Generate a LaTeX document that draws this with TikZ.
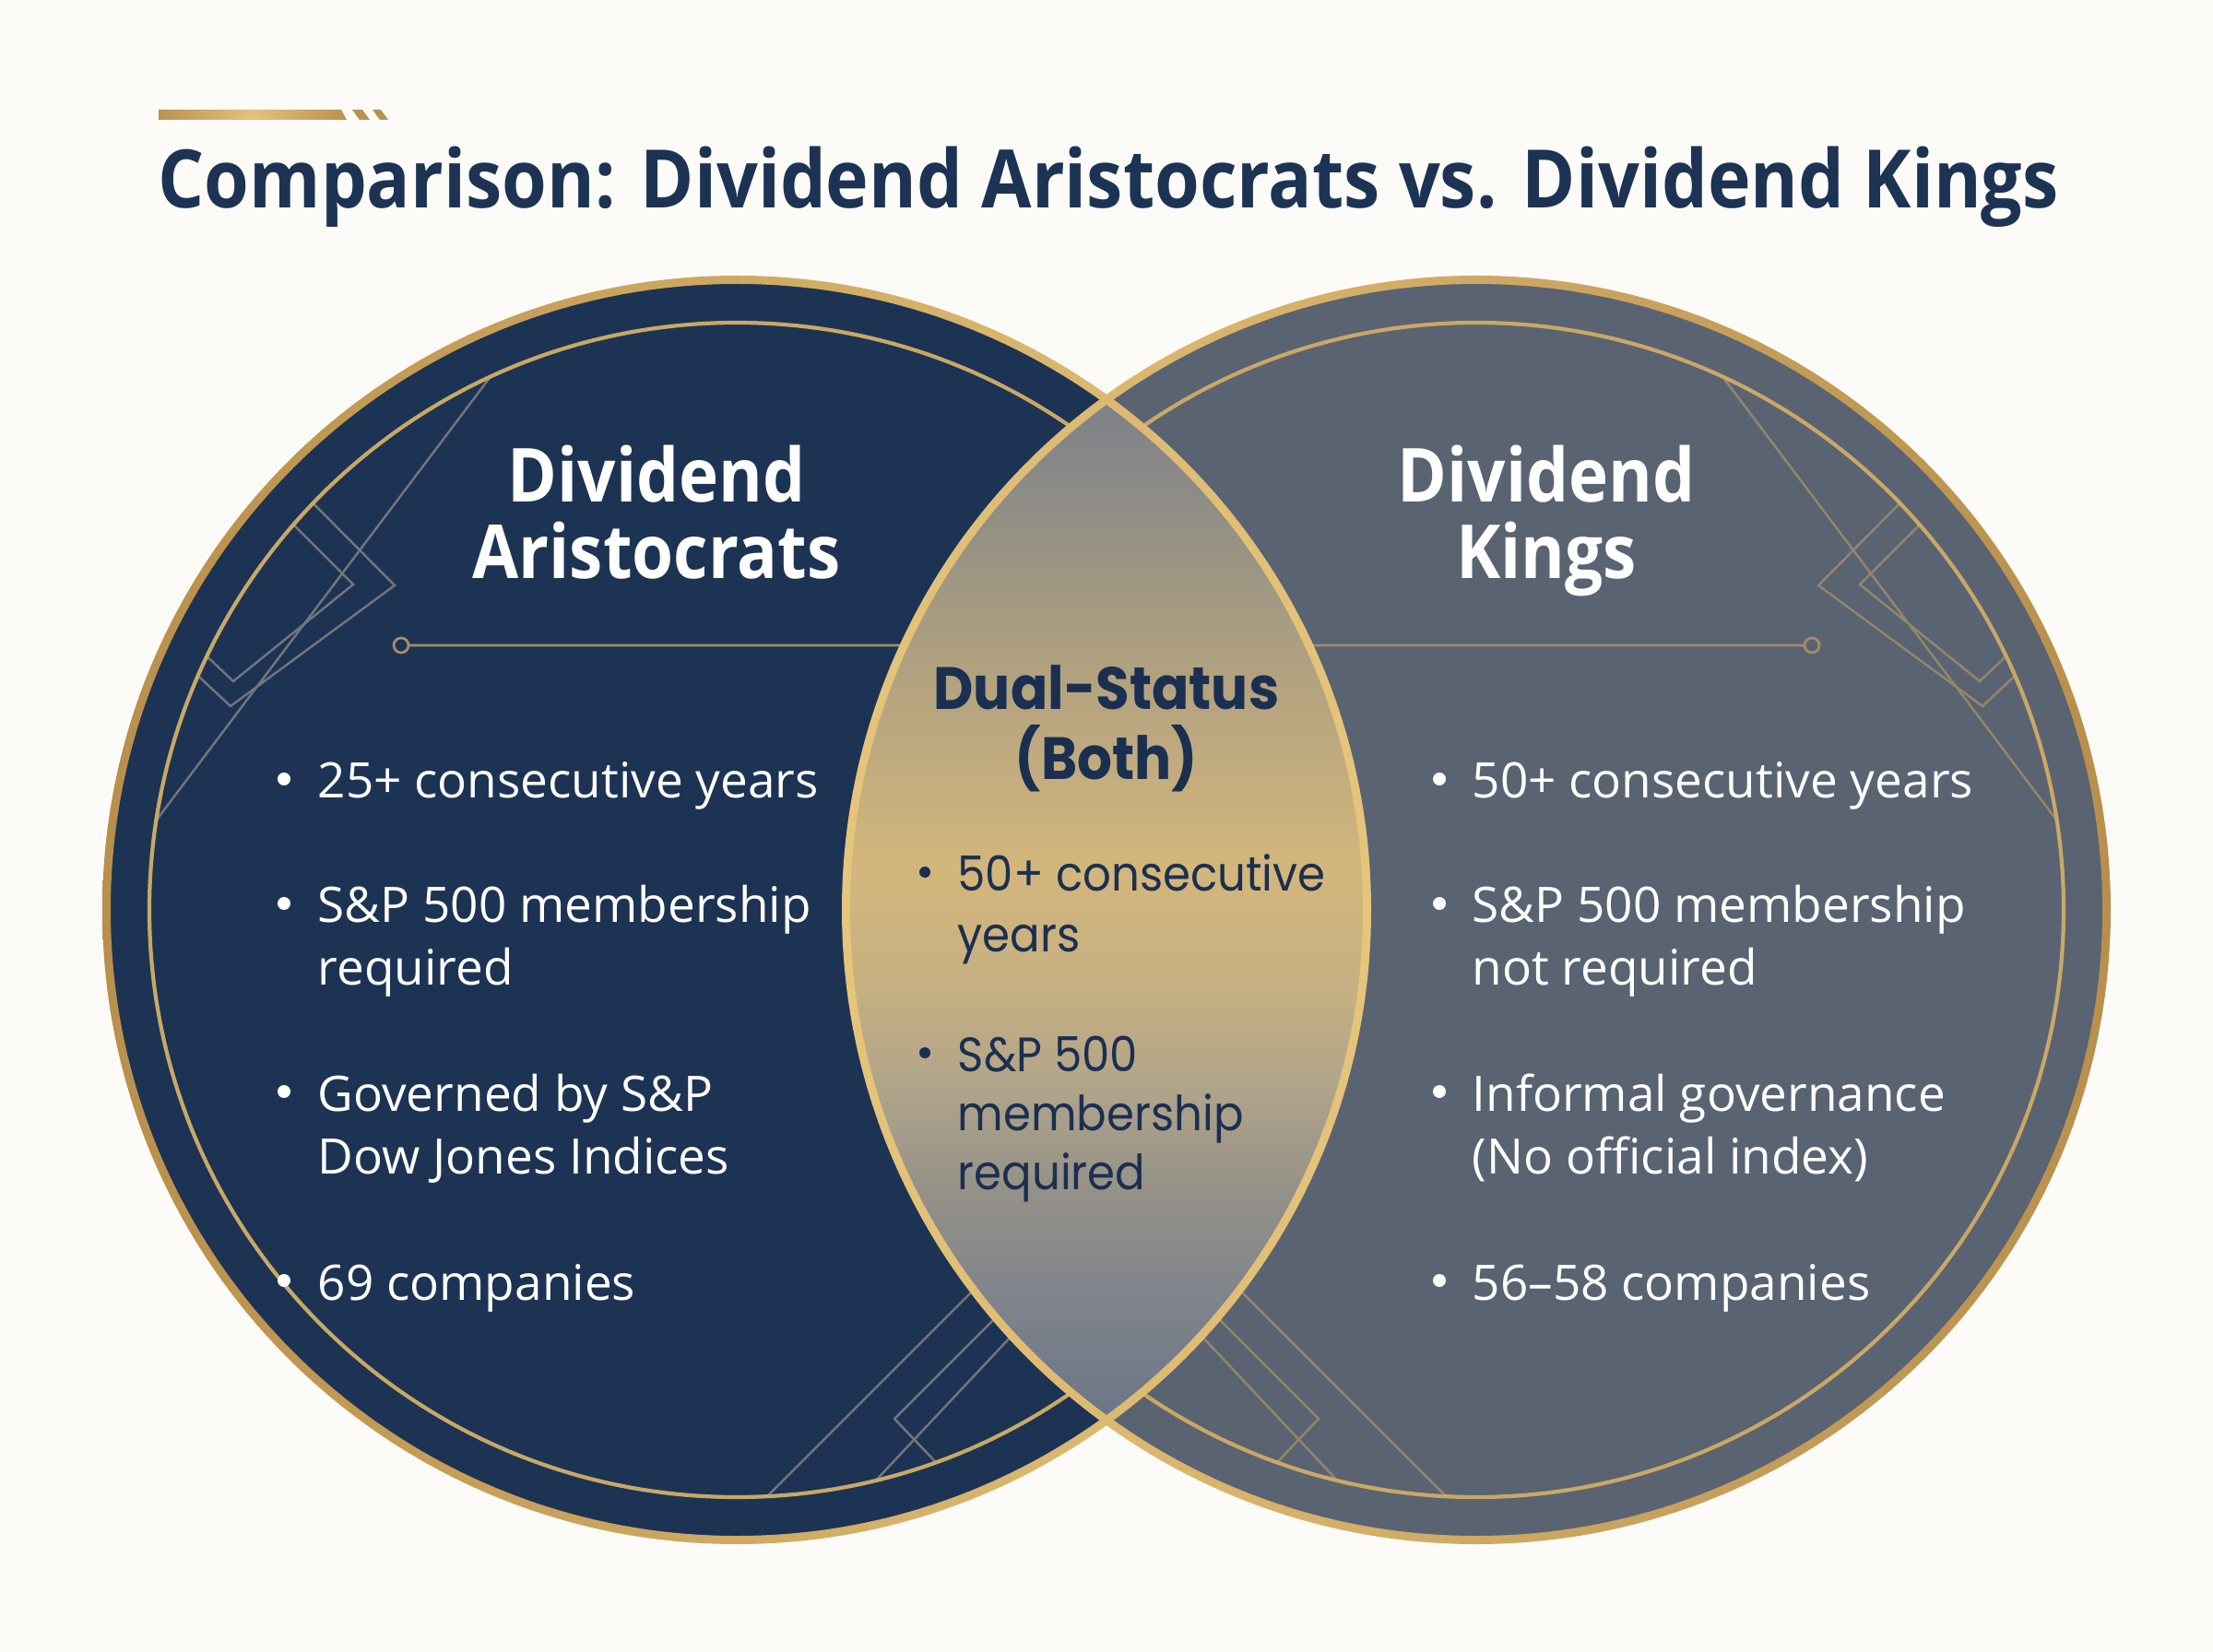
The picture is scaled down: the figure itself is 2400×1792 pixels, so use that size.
\documentclass[tikz,border=0pt]{standalone}
\usepackage{fontspec}
\setmainfont{Open Sans}
\newfontfamily\headfont[FakeStretch=0.9]{Open Sans}
\newfontfamily\lensfont[FakeStretch=0.92]{Poppins}
\definecolor{paper}{HTML}{FCFBF8}
\definecolor{navy}{HTML}{1C3354}
\definecolor{inknavy}{HTML}{1B2F50}
\definecolor{slate}{HTML}{596372}
\definecolor{golddark}{HTML}{B88F4C}
\definecolor{goldlight}{HTML}{E5C47B}
\definecolor{goldline}{HTML}{C9A866}
\definecolor{divgold}{HTML}{A58D64}
\definecolor{decoonnavy}{HTML}{737679}
\definecolor{decoonslate}{HTML}{94866B}
\definecolor{barend}{HTML}{B8934F}
\definecolor{barmid}{HTML}{E2C27A}
\definecolor{ls0}{HTML}{6B7587}
\definecolor{ls1}{HTML}{7F838B}
\definecolor{ls2}{HTML}{939088}
\definecolor{ls3}{HTML}{AEA38A}
\definecolor{ls4}{HTML}{C6AF82}
\definecolor{ls5}{HTML}{D3B67B}
\definecolor{ls6}{HTML}{BEA97F}
\definecolor{ls7}{HTML}{A89C80}
\definecolor{ls8}{HTML}{8E8C86}
\definecolor{ls9}{HTML}{7D8089}
\pgfdeclareverticalshading{lensfill}{100bp}{color(0bp)=(ls0); color(25bp)=(ls0); color(31bp)=(ls1); color(36bp)=(ls2); color(41bp)=(ls3); color(46bp)=(ls4); color(52bp)=(ls5); color(58bp)=(ls6); color(64bp)=(ls7); color(70bp)=(ls8); color(75bp)=(ls9); color(100bp)=(ls9)}
\begin{document}
\begin{tikzpicture}[x=0.01cm,y=-0.01cm,
  deco/.style={line width=0.7pt},
  ring/.style={draw=goldline,line width=1.2pt},
  divider/.style={draw=divgold,line width=0.8pt},
  head/.style={anchor=base,inner sep=0,text=white,font=\headfont\bfseries\fontsize{23}{27}\selectfont},
  itm/.style={anchor=base west,inner sep=0,text=white,font=\fontsize{15.1}{18}\selectfont},
  lenshead/.style={anchor=base,inner sep=0,text=inknavy,font=\lensfont\bfseries\fontsize{18.4}{22}\selectfont},
  lensitm/.style={anchor=base west,inner sep=0,text=inknavy,font=\lensfont\fontsize{14.9}{17}\selectfont}]
\useasboundingbox (0,0) rectangle (2400,1792);
\fill[paper] (0,0) rectangle (2400,1792);
% title bar
\shade[left color=barend,right color=barend,middle color=barmid] (172,119)--(370,119)--(376,130)--(172,130)--cycle;
\fill[barend] (382,119)--(393,119)--(401,130)--(390,130)--cycle;
\fill[barend] (404,119)--(413,119)--(421,130)--(412,130)--cycle;
\node[anchor=base west,inner sep=0,text=navy,font=\headfont\bfseries\fontsize{24.9}{30}\selectfont] (title) at (171,226) {Comparison: Dividend Aristocrats vs. Dividend Kings};
% the two circles, right one mirrored
\foreach \sx/\ox/\fc/\lc in {1/0/navy/decoonnavy,-1/2400/slate/decoonslate}{
\begin{scope}[shift={(\ox,0)},xscale=\sx]
\fill[\fc] (799,987) circle (687);
\begin{scope}
\clip (799,987) circle (636);
\draw[deco,\lc] (300,506)--(428,635)--(250,766)--(190,710);
\draw[deco,\lc] (280,531)--(383,634)--(253,739)--(215,703);
\draw[deco,\lc] (570,358)--(79,1010);
\draw[deco,\lc] (1110,1345)--(790,1665);
\draw[deco,\lc] (1110,1399)--(970,1539)--(1050,1623);
\draw[deco,\lc] (1130,1414)--(930,1627);
\end{scope}
\draw[ring] (799,987) circle (637);
\draw[divider] (435,700) circle (8) (443,700)--(1000,700);
\end{scope}
}
% overlap
\begin{scope}
\clip (799,987) circle (687);
\clip (1601,987) circle (687);
\shade[shading=lensfill] (914,429) rectangle (1486,1545);
\end{scope}
\shade[even odd rule,left color=golddark,right color=goldlight] (799,987) circle (688) (799,987) circle (679);
\shade[even odd rule,left color=goldlight,right color=golddark] (1601,987) circle (688) (1601,987) circle (679);
% headings
\node[head] (aristo1) at (712,545) {Dividend};
\node[head] (aristo2) at (712,628) {Aristocrats};
\node[head] (kings1) at (1677,545) {Dividend};
\node[head] (kings2) at (1677,628) {Kings};
\node[lenshead] (dual1) at (1200,770) {Dual-Status};
\node[lenshead] (dual2) at (1200,846) {(Both)};
% left list
\foreach \y/\t [count=\i] in {866/25+ consecutive years,1001/S\&P 500 membership,1068/required,1205/Governed by S\&P,1273/Dow Jones Indices,1410/69 companies}
  \node[itm] (aristoitem\i) at (344,\y) {\t};
\foreach \y in {845,980,1184,1389} \fill[white] (308,\y) circle (7);
% right list
\foreach \y/\t [count=\i] in {866/50+ consecutive years,1001/S\&P 500 membership,1068/not required,1205/Informal governance,1273/(No official index),1410/56–58 companies}
  \node[itm] (kingsitem\i) at (1596,\y) {\t};
\foreach \y in {845,980,1184,1389} \fill[white] (1561,\y) circle (7);
% shared list
\foreach \y/\t [count=\i] in {966/50+ consecutive,1032/years,1162/S\&P 500,1226/membership,1290/required}
  \node[lensitm] (dualitem\i) at (1038,\y) {\t};
\foreach \y in {946,1142} \fill[inknavy] (1003,\y) circle (6);
\end{tikzpicture}
\end{document}
